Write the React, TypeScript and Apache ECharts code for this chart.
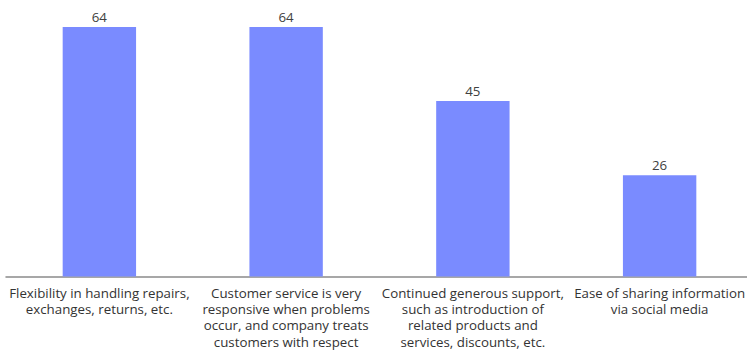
import React, { useEffect, useRef } from "react";
import * as echarts from "echarts";

const categories: string[] = [
  "Flexibility in handling repairs,\nexchanges, returns, etc.",
  "Customer service is very\nresponsive when problems\noccur, and company treats\ncustomers with respect",
  "Continued generous support,\nsuch as introduction of\nrelated products and\nservices, discounts, etc.",
  "Ease of sharing information\nvia social media",
];
const values: number[] = [64, 64, 45, 26];

export default function App() {
  const ref = useRef<HTMLDivElement>(null);
  useEffect(() => {
    document.body.style.margin = "0";
    const chart = echarts.init(ref.current!, null, { renderer: "svg" });
    chart.setOption({
      animation: false,
      grid: { left: 6, right: 0, top: 27, bottom: 74.5, containLabel: false },
      xAxis: {
        type: "category",
        data: categories,
        axisTick: { show: false },
        axisLine: { show: true, lineStyle: { color: "#8a8a8a", width: 1.5 } },
        axisLabel: {
          interval: 0,
          margin: 8,
          fontSize: 13.3,
          lineHeight: 16.3,
          color: "#333333",
          fontFamily: "Open Sans",
          align: "center",
        },
      },
      yAxis: {
        type: "value",
        min: 0,
        max: 64,
        show: false,
        splitLine: { show: false },
      },
      series: [
        {
          type: "bar",
          data: values,
          barWidth: "39.3%",
          itemStyle: { color: "#7a8bff" },
          label: {
            show: true,
            position: "top",
            distance: 4,
            fontSize: 13.3,
            color: "#404040",
            fontFamily: "Open Sans",
          },
        },
      ],
    });
    return () => chart.dispose();
  }, []);
  return (
    <div style={{ width: 747, height: 351, overflow: "hidden", position: "relative" }}>
      <div ref={ref} style={{ width: 753, height: 351 }} />
    </div>
  );
}
